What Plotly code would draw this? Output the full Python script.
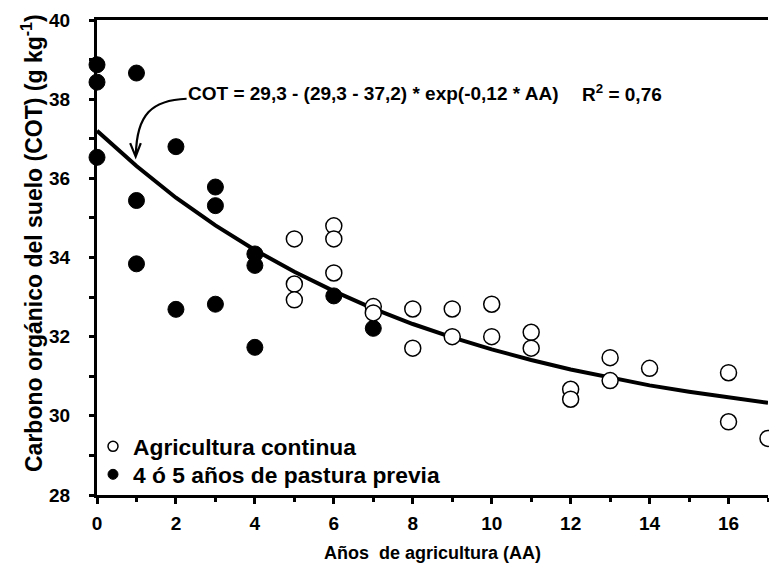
import plotly.graph_objects as go

# ---- data ----
open_x = [5, 5, 5, 6, 6, 6, 7, 7, 8, 8, 9, 9, 10, 10, 11, 11, 12, 12, 13, 13, 14, 16, 16, 17]
open_y = [34.47, 33.33, 32.93, 34.80, 34.47, 33.61, 32.76, 32.60, 32.70, 31.71, 32.70, 32.00,
          32.82, 32.00, 32.11, 31.71, 30.67, 30.42, 31.47, 30.89, 31.20, 31.09, 29.85, 29.43]

filled_x = [0, 0, 0, 1, 1, 1, 2, 2, 3, 3, 3, 4, 4, 4, 6, 7]
filled_y = [38.87, 38.43, 36.53, 38.66, 35.44, 33.84, 36.80, 32.69, 35.78, 35.31, 32.82,
            34.09, 33.80, 31.73, 33.03, 32.21]

curve_x = list(range(0, 18))
curve_y = [37.20, 36.31, 35.51, 34.81, 34.19, 33.64, 33.15, 32.71, 32.32, 31.98,
           31.68, 31.41, 31.17, 30.96, 30.77, 30.61, 30.46, 30.33]

series_names = ["Agricultura continua", "4 ó 5 años de pastura previa"]
x_ticks = [0, 2, 4, 6, 8, 10, 12, 14, 16]
y_ticks = [28, 30, 32, 34, 36, 38, 40]

FONT = "Liberation Sans, Arial, Helvetica, sans-serif"

# page body has an 8 px default margin
OFF = 8
W, H = 777 - OFF, 573 - OFF
L, R, T, B = 97 - OFF, 9, 20 - OFF, 78
pw, ph = W - L - R, H - T - B


def px_x(p):
    return (p - OFF - L) / pw


def px_y(p):
    return 1 - (p - OFF - T) / ph


fig = go.Figure()

fig.add_trace(go.Scatter(x=curve_x, y=curve_y, mode="lines", cliponaxis=False,
                         line=dict(color="black", width=4), showlegend=False))
fig.add_trace(go.Scatter(x=filled_x, y=filled_y, mode="markers", showlegend=False, cliponaxis=False,
                         marker=dict(size=16, color="black", line=dict(color="black", width=1))))
fig.add_trace(go.Scatter(x=open_x, y=open_y, mode="markers", showlegend=False, cliponaxis=False,
                         marker=dict(size=16, color="white", line=dict(color="black", width=1.5))))

# legend entries (smaller symbols as in the reference)
fig.add_trace(go.Scatter(x=[None], y=[None], mode="markers", name=series_names[0], legend="legend",
                         marker=dict(size=10, color="white", line=dict(color="black", width=1.5))))
fig.add_trace(go.Scatter(x=[None], y=[None], mode="markers", name=series_names[1], legend="legend2",
                         marker=dict(size=10, color="black", line=dict(color="black", width=1))))

# curved arrow (with open arrowhead) from equation to curve
fig.add_shape(type="path", xref="x", yref="y",
              path=("M 2.27,38.01 C 1.40,37.98 1.00,37.62 0.985,36.58 "
                    "M 0.84,36.89 L 0.98,36.55 L 1.11,36.89"),
              line=dict(color="black", width=2.2))

fig.add_annotation(x=2.26, y=38.15, xref="x", yref="y", xanchor="left", yanchor="middle",
                   showarrow=False,
                   text="COT = 29,3 - (29,3 - 37,2) * exp(-0,12 * AA)",
                   font=dict(family=FONT, size=19, color="black", weight="bold"))
fig.add_annotation(x=12.23, y=38.15, xref="x", yref="y", xanchor="left", yanchor="middle",
                   showarrow=False, text="R<sup>2</sup> = 0,76",
                   font=dict(family=FONT, size=19, color="black", weight="bold"))

# y-axis title
fig.add_annotation(x=px_x(32), y=px_y(243), xref="paper", yref="paper", showarrow=False,
                   xanchor="center", yanchor="middle",
                   text="Carbono orgánico del suelo (COT) (g kg<sup>-1</sup>)", textangle=-90,
                   font=dict(family=FONT, size=23, color="black", weight="bold"))

legend_font = dict(family=FONT, size=22.8, color="black", weight="bold")

fig.update_layout(
    width=W, height=H,
    margin=dict(l=L, r=R, t=T, b=B, autoexpand=False),
    paper_bgcolor="white", plot_bgcolor="white",
    font=dict(family=FONT, color="black", weight="bold"),
    legend=dict(x=px_x(93), y=px_y(425), xanchor="left", yanchor="top",
                bgcolor="rgba(0,0,0,0)", borderwidth=0, font=legend_font),
    legend2=dict(x=px_x(93), y=px_y(453), xanchor="left", yanchor="top",
                 bgcolor="rgba(0,0,0,0)", borderwidth=0, font=legend_font),
    xaxis=dict(range=[0, 17], tickvals=x_ticks, ticks="outside", ticklen=6, tickwidth=2.5,
               tickcolor="black", showline=True, linecolor="black", linewidth=3, mirror=True,
               showgrid=False, zeroline=False, ticklabelstandoff=3,
               minor=dict(dtick=1, ticks="outside", ticklen=4, tickwidth=2.5, tickcolor="black",
                          showgrid=False),
               tickfont=dict(family=FONT, size=19, color="black", weight="bold"),
               title=dict(text="Años  de agricultura (AA)", standoff=14,
                          font=dict(family=FONT, size=18, color="black", weight="bold"))),
    yaxis=dict(range=[28, 40], tickvals=y_ticks, ticks="outside", ticklen=5, tickwidth=2.5,
               tickcolor="black", showline=True, linecolor="black", linewidth=3,
               showgrid=False, zeroline=False, ticklabelstandoff=15,
               minor=dict(dtick=1, ticks="outside", ticklen=5, tickwidth=2.5, tickcolor="black",
                          showgrid=False),
               tickfont=dict(family=FONT, size=19, color="black", weight="bold")),
)

fig.write_html("out.html")
